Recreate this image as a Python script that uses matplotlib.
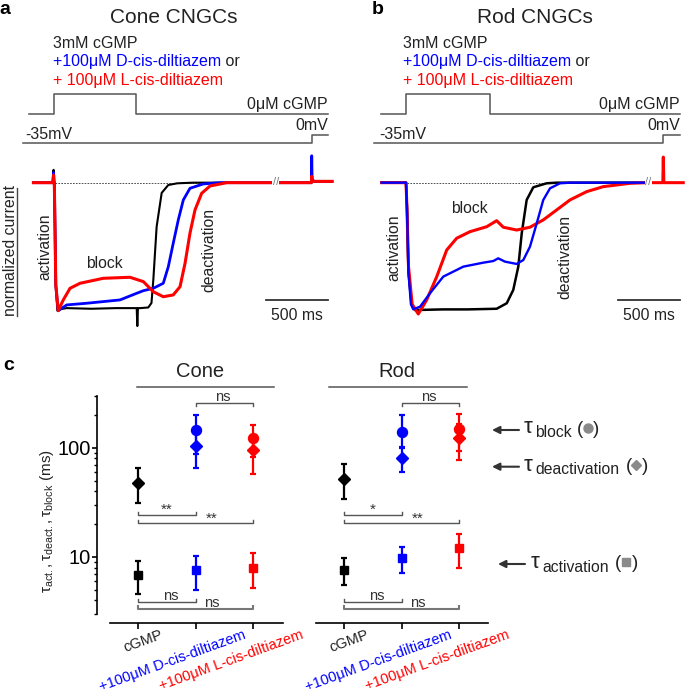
import matplotlib.pyplot as plt
from matplotlib.transforms import ScaledTranslation

plt.rcParams['font.family'] = ['Liberation Sans', 'DejaVu Sans']
plt.rcParams['mathtext.fontset'] = 'custom'
plt.rcParams['mathtext.rm'] = 'Liberation Sans'
plt.rcParams['mathtext.it'] = 'Liberation Sans:italic'
plt.rcParams['mathtext.bf'] = 'Liberation Sans:bold'

BLUE = '#0000ff'
RED = '#ff0000'
TXT = '#222222'
GREY = '#555555'

### --- traces (time in ms, normalized current) ---
cone_black_t = [-170, -12, -6, -2, 0, 5, 12, 25, 40, 100, 300, 500, 670, 675, 680, 700, 764, 790, 805, 832, 873, 927, 1000, 1127, 1800, 2090, 2093, 2096, 2110, 2258]
cone_black_i = [0, 0, 0.1, 0, 0, -0.3, -0.8, -1.0, -0.99, -0.98, -0.985, -0.98, -0.98, -1.12, -0.98, -0.98, -0.975, -0.94, -0.76, -0.344, -0.08, -0.018, -0.005, 0, 0, 0, 0.12, 0.02, 0.013, 0.013]

cone_blue_t = [-170, -12, -6, -2, 0, 5, 12, 32, 101, 263, 534, 670, 724, 805, 886, 927, 967, 1008, 1049, 1103, 1211, 1347, 2090, 2093, 2096, 2110, 2258]
cone_blue_i = [0, 0, 0.08, 0, 0, -0.3, -0.8, -1.0, -0.955, -0.942, -0.916, -0.864, -0.844, -0.825, -0.786, -0.656, -0.473, -0.291, -0.135, -0.044, -0.01, 0, 0, 0.21, 0.03, 0.01, 0.01]

cone_red_t = [-170, -12, -6, -2, 0, 5, 12, 32, 73, 128, 209, 398, 615, 724, 805, 886, 967, 1022, 1063, 1103, 1144, 1198, 1266, 1402, 2090, 2093, 2096, 2110, 2258]
cone_red_i = [0, 0, 0.06, 0, 0, -0.3, -0.8, -1.0, -0.916, -0.825, -0.786, -0.747, -0.739, -0.773, -0.852, -0.891, -0.877, -0.813, -0.63, -0.395, -0.213, -0.083, -0.026, 0, 0, 0.05, 0.01, 0.01, 0.01]

rod_black_t = [-198, 0, 8, 20, 45, 73, 300, 500, 737, 819, 872, 913, 941, 981, 1035, 1143, 1225, 1957]
rod_black_i = [0, 0, -0.2, -0.7, -0.95, -0.995, -0.99, -0.99, -0.985, -0.942, -0.838, -0.656, -0.395, -0.135, -0.036, -0.005, 0, 0]

rod_blue_t = [-198, 0, 8, 20, 40, 59, 114, 195, 303, 466, 628, 710, 750, 805, 900, 954, 1008, 1063, 1116, 1171, 1252, 1333, 1957]
rod_blue_i = [0, 0, -0.2, -0.7, -0.95, -0.989, -0.969, -0.864, -0.734, -0.656, -0.625, -0.612, -0.591, -0.617, -0.635, -0.604, -0.5, -0.317, -0.135, -0.044, -0.005, 0, 0]

rod_red_t = [-198, 0, 8, 20, 50, 100, 168, 250, 331, 412, 520, 656, 737, 791, 900, 1008, 1116, 1225, 1333, 1469, 1604, 1821, 1957, 2088, 2092, 2096, 2254]
rod_red_i = [0, 0, -0.2, -0.65, -0.95, -1.026, -0.916, -0.734, -0.526, -0.434, -0.383, -0.344, -0.297, -0.348, -0.37, -0.348, -0.291, -0.213, -0.135, -0.07, -0.031, -0.005, 0, 0, 0.2, 0, 0]

# stimulus protocol (cGMP application, holding voltage)
cone_cgmp_t = [-206, 0, 0, 664, 664, 2225]
rod_cgmp_t = [-206, 0, 0, 683, 683, 2228]
cgmp_level = [0.537, 0.537, 0.693, 0.693, 0.537, 0.537]
cone_volt_t = [-254, 2093, 2093, 2225]
rod_volt_t = [-260, 2092, 2092, 2228]
volt_level = [0.3125, 0.3125, 0.375, 0.375]

### --- time constants (ms) ---
groups = ['cGMP', '+100μM D-cis-diltiazem', '+100μM L-cis-diltiazem']
group_colors = ['black', BLUE, RED]
xpos = [1, 2, 3]

cone_act = [6.8, 7.55, 7.98]
cone_act_lo = [4.6, 4.95, 5.14]
cone_act_hi = [9.1, 10.1, 10.8]
cone_deact = [48, 104, 95]
cone_deact_lo = [31.1, 65, 58]
cone_deact_hi = [65.3, 138, 125]
cone_block = [None, 147, 122]
cone_block_lo = [None, 87, 82]
cone_block_hi = [None, 199, 163]

rod_act = [7.55, 9.7, 12.2]
rod_act_lo = [5.5, 7.1, 8.0]
rod_act_hi = [9.7, 12.3, 16.3]
rod_deact = [51.8, 80, 124]
rod_deact_lo = [34, 60.4, 77.2]
rod_deact_hi = [70.6, 100, 165]
rod_block = [None, 139, 149]
rod_block_lo = [None, 101, 93]
rod_block_hi = [None, 200, 204]

# significance brackets: (from, to, level, ticks direction, label, label x)
cone_sig = [(2, 3, 259, 'down', 'ns', 2.47), (1, 2, 24.3, 'up', '**', 1.5), (1, 3, 20.4, 'up', '**', 2.28),
            (1, 2, 3.86, 'up', 'ns', 1.57), (1, 3, 3.36, 'up', 'ns', 2.28)]
rod_sig = [(2, 3, 259, 'down', 'ns', 2.47), (1, 2, 24.3, 'up', '*', 1.5), (1, 3, 20.4, 'up', '**', 2.28),
           (1, 2, 3.86, 'up', 'ns', 1.57), (1, 3, 3.36, 'up', 'ns', 2.28)]


fig = plt.figure(figsize=(6.85, 6.93), dpi=100)
W, H = 685.0, 693.0


def trace_panel(left_px, xlim, title, title_x, traces, cgmp_t, volt_t, txt_left, txt_right,
                lbl_pos, bar_t, brk_t, dash_end):
    ax = fig.add_axes([left_px / W, (H - 335) / H, 345 / W, 335 / H])
    ax.set_xlim(*xlim)
    ax.set_ylim(-1.19, 1.427)
    ax.axis('off')
    ax.plot(cgmp_t, cgmp_level, color=GREY, lw=1.1)
    ax.plot(volt_t, volt_level, color=GREY, lw=1.1)
    ax.plot([5, dash_end], [0, 0], color='#333333', lw=0.6, ls=(0, (2, 1.5)))
    for t, i, c, lw in traces:
        ax.plot(t, i, color=c, lw=lw, solid_joinstyle='round')
    ax.text(brk_t, 0.005, '//', ha='center', va='center', fontsize=8, color='#777777',
            bbox=dict(facecolor='white', edgecolor='none', pad=0.3))
    ax.text(title_x, 1.287, title, ha='center', va='center', fontsize=15, color=TXT)
    ax.text(txt_left, 1.091, '3mM cGMP', ha='left', va='center', fontsize=11.5, color=TXT)
    t2 = ax.text(txt_left, 0.943, '+100μM D-cis-diltiazem', ha='left', va='center', fontsize=11.5, color=BLUE)
    ax.annotate(' or', xy=(1, 0), xycoords=t2, ha='left', va='bottom', fontsize=11.5, color=TXT)
    ax.text(txt_left, 0.802, '+ 100μM L-cis-diltiazem', ha='left', va='center', fontsize=11.5, color=RED)
    ax.text(txt_right, 0.607, '0μM cGMP', ha='right', va='center', fontsize=11.5, color=TXT)
    ax.text(lbl_pos['mv'], 0.373, '-35mV', ha='left', va='center', fontsize=11.5, color=TXT)
    ax.text(txt_right, 0.443, '0mV', ha='right', va='center', fontsize=11.5, color=TXT)
    ax.text(*lbl_pos['block'], 'block', ha='center', va='center', fontsize=11.3, color=TXT)
    ax.text(*lbl_pos['act'], 'activation', ha='center', va='center', rotation=90, fontsize=11.3, color=TXT)
    ax.text(*lbl_pos['deact'], 'deactivation', ha='center', va='center', rotation=90, fontsize=11.3, color=TXT)
    ax.plot(bar_t, [-0.918, -0.918], color='#333333', lw=1.3)
    ax.text(sum(bar_t) / 2, -1.034, '500 ms', ha='center', va='center', fontsize=11.3, color=TXT)
    return ax


ax_a = trace_panel(0, (-441.5, 2363.5), 'Cone CNGCs', 973,
                   [(cone_black_t, cone_black_i, 'black', 1.5),
                    (cone_blue_t, cone_blue_i, BLUE, 2.0),
                    (cone_red_t, cone_red_i, RED, 2.2)],
                   cone_cgmp_t, cone_volt_t, -8, 2225,
                   {'mv': -238, 'block': (404, -0.635), 'act': (-76, -0.5), 'deact': (1258, -0.526)},
                   [1722, 2222], 1800, 1778)
ax_a.text(-360, -0.53, 'normalized current', ha='center', va='center', rotation=90, fontsize=11.3, color=TXT)
ax_a.plot([-303, -303], [-0.04, -1.04], color='#444444', lw=1.0)

ax_b = trace_panel(340, (-536.6, 2268.3), 'Rod CNGCs', 1049,
                   [(rod_black_t, rod_black_i, 'black', 1.8),
                    (rod_red_t, rod_red_i, RED, 2.2),
                    (rod_blue_t, rod_blue_i, BLUE, 1.7)],
                   rod_cgmp_t, rod_volt_t, -22, 2228,
                   {'mv': -217, 'block': (512, -0.205), 'act': (-98, -0.51), 'deact': (1293, -0.578)},
                   [1726, 2226], 1970, 1957)

### --- panel c ---
axc = fig.add_axes([97 / W, (H - 614) / H, 186 / W, 218.3 / H])
axr = fig.add_axes([316 / W, (H - 614) / H, 171.7 / W, 218.3 / H])

series = {
    axc: [(cone_block, cone_block_lo, cone_block_hi, 'o', 7.2),
          (cone_deact, cone_deact_lo, cone_deact_hi, 'D', 6.2),
          (cone_act, cone_act_lo, cone_act_hi, 's', 6.0)],
    axr: [(rod_block, rod_block_lo, rod_block_hi, 'o', 7.2),
          (rod_deact, rod_deact_lo, rod_deact_hi, 'D', 6.2),
          (rod_act, rod_act_lo, rod_act_hi, 's', 6.0)],
}

for ax, xl, sig, head, head_x, head_line in ((axc, (0.28, 3.52), cone_sig, 'Cone', 2.07, (0.977, 3.36)),
                                              (axr, (0.515, 3.49), rod_sig, 'Rod', 1.92, (0.74, 3.13))):
    ax.set_yscale('log')
    ax.set_ylim(3, 300)
    ax.set_xlim(*xl)
    ax.patch.set_visible(False)
    ax.spines['top'].set_visible(False)
    ax.spines['right'].set_visible(False)
    ax.spines['bottom'].set_position(('outward', 6.5))
    ax.spines['bottom'].set_linewidth(1.2)
    ax.spines['left'].set_linewidth(1.2)
    ax.tick_params(axis='x', direction='out', length=4.3, width=1.2, pad=0)
    ax.tick_params(axis='y', which='major', direction='out', length=3.5, width=1.2, pad=1, labelsize=14.5)
    ax.tick_params(axis='y', which='minor', direction='out', length=2.2, width=1.0)

    for vals, lo, hi, mk, ms in series[ax]:
        for x, v, l, h, c in zip(xpos, vals, lo, hi, group_colors):
            if v is None:
                continue
            ax.errorbar([x], [v], yerr=[[v - l], [h - v]], fmt=mk, ms=ms, color=c, mec=c,
                        elinewidth=1.6, capsize=2.4, capthick=1.6, clip_on=False)

    for x1, x2, y, d, lab, lx in sig:
        f = 1.065 if d == 'up' else 1 / 1.065
        lc = '#777777' if (x1, x2, y) == (1, 3, 3.36) else GREY
        lw = 1.5 if lc == '#777777' else 1.0
        ax.plot([x1, x1, x2, x2], [y * f, y, y, y * f], color=lc, lw=lw)
        dy = 4.0 if 'n' in lab else 3.3
        ax.annotate(lab, xy=(lx, y), xytext=(0, dy), textcoords='offset points',
                    ha='center', va='center', fontsize=10.5 if 'n' in lab else 11, color='#333333')

    tr = ax.get_xaxis_transform()
    ax.plot(head_line, [1.042, 1.042], color=GREY, lw=1.1, transform=tr, clip_on=False)
    ax.text(head_x, 1.1086, head, transform=tr, ha='center', va='center', fontsize=14.5, color=TXT)

    ax.set_xticks(xpos)
    ax.set_xticklabels(groups, rotation=20, ha='right', va='top', rotation_mode='anchor', fontsize=10.5)
    for lab, c, dx in zip(ax.get_xticklabels(), [TXT, BLUE, RED], [22, 47, 47]):
        lab.set_color(c)
        lab.set_transform(lab.get_transform() + ScaledTranslation(dx / 100, 0.01, fig.dpi_scale_trans))

axc.spines['bottom'].set_bounds(0.5, 3.52)
axc.set_yticks([10, 100])
axc.set_yticklabels(['10', '100'])
axc.set_ylabel(r'$\mathrm{\tau_{act.},\tau_{deact.},\tau_{block}}$ (ms)', fontsize=11, color=TXT, va='center')
axc.yaxis.set_label_coords(-0.27, 0.426)

axr.spines['left'].set_visible(False)
axr.tick_params(axis='y', which='both', left=False, labelleft=False)

### --- overlay: panel letters and symbol key ---
ov = fig.add_axes([0, 0, 1, 1])
ov.set_xlim(0, W)
ov.set_ylim(H, 0)
ov.axis('off')
ov.text(-1, 10, 'a', ha='left', va='center', fontsize=14, fontweight='bold', color='black')
ov.text(372, 10, 'b', ha='left', va='center', fontsize=14, fontweight='bold', color='black')
ov.text(3, 366, 'c', ha='left', va='center', fontsize=14, fontweight='bold', color='black')

key = [('block', 492, 519, 430, 524, 433.3, 436.7, 576.7, 588.3, 428.3, 'o', 6.5, 593.3),
       ('deactivation', 492, 519, 466.7, 524, 470.7, 474, 625.7, 635.7, 465, 'D', 5.2, 641.7),
       ('activation', 498, 525, 564, 531, 568, 571.7, 615, 626, 562.3, 's', 5.5, 631.7)]
for name, ax0, ax1, ay, tx, tb, sb, p1, mx, my, mk, ms, p2 in key:
    ov.annotate('', xy=(ax0, ay), xytext=(ax1, ay),
                arrowprops=dict(arrowstyle='-|>', color='#333333', lw=1.5, mutation_scale=11,
                                shrinkA=0, shrinkB=0))
    ov.text(tx, tb, 'τ', ha='left', va='baseline', fontsize=16, color=TXT)
    ov.text(tx + 11, sb, name, ha='left', va='baseline', fontsize=11.3, color=TXT)
    ov.text(p1, my + 1.5, '(', ha='left', va='center', fontsize=13.5, color=TXT)
    ov.plot([mx], [my], marker=mk, ms=ms, color='#8a8a8a', mec='#8a8a8a')
    ov.text(p2, my + 1.5, ')', ha='left', va='center', fontsize=13.5, color=TXT)

fig.savefig('out.png', dpi=100)
